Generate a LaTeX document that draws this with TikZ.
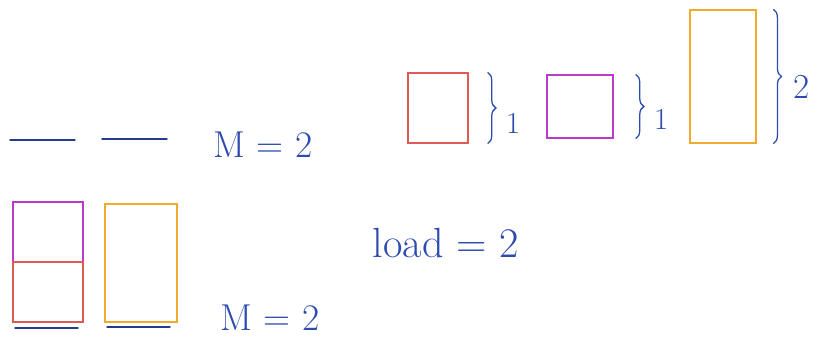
\documentclass[tikz,border=0pt]{standalone}
\usepackage{xcolor}
\usetikzlibrary{decorations.pathreplacing}

\definecolor{penblue}{RGB}{45,75,175}
\definecolor{penred}{RGB}{222,90,85}
\definecolor{penpurple}{RGB}{185,60,200}
\definecolor{penorange}{RGB}{240,170,45}

\begin{document}
\begin{tikzpicture}[x=0.03cm, y=-0.03cm]

% Defined styles
\tikzstyle{slot} = [draw=penblue!80!black, line width=1.2pt, line cap=round]
\tikzstyle{box} = [rectangle, line width=1.1pt, inner sep=0pt]
\tikzstyle{redbox} = [box, draw=penred]
\tikzstyle{purplebox} = [box, draw=penpurple]
\tikzstyle{orangebox} = [box, draw=penorange]
\tikzstyle{brace} = [draw=penblue, line width=1.1pt, decorate, decoration={brace, amplitude=7pt}]
\tikzstyle{note} = [text=penblue, inner sep=0pt]

\useasboundingbox (0,0) rectangle (824,349);

% --- Row 1: two machines ---
\coordinate (s1a) at (10,140);  \coordinate (s1b) at (75,140);
\coordinate (s2a) at (102,139); \coordinate (s2b) at (167,139);
\draw [slot] (s1a) -- (s1b);
\draw [slot] (s2a) -- (s2b);
\node (m1) [note, font=\fontsize{32}{36}\selectfont] at (263,145) {M = 2};

% --- Row 1: jobs with their sizes ---
\node (job1) [redbox, minimum width=1.8cm, minimum height=2.1cm] at (438,108) {};
\node (job2) [purplebox, minimum width=1.98cm, minimum height=1.89cm] at (580,106.5) {};
\node (job3) [orangebox, minimum width=1.98cm, minimum height=3.99cm] at (723,76.5) {};

\draw [brace] ([xshift=0.57cm]job1.north east) -- ([xshift=0.57cm]job1.south east) coordinate[midway, xshift=0.55cm] (b1);
\draw [brace] ([xshift=0.66cm]job2.north east) -- ([xshift=0.66cm]job2.south east) coordinate[midway, xshift=0.55cm] (b2);
\draw [brace] ([xshift=0.5cm]job3.north east) -- ([xshift=0.5cm]job3.south east) coordinate[midway, xshift=0.6cm] (b3);
\node (n1) [note, anchor=west, font=\fontsize{26}{30}\selectfont] at ([yshift=-0.45cm]b1) {1};
\node (n2) [note, anchor=west, font=\fontsize{26}{30}\selectfont] at ([yshift=-0.4cm]b2) {1};
\node (n3) [note, anchor=west, font=\fontsize{30}{34}\selectfont] at ([yshift=-0.3cm]b3) {2};

% --- Row 2: jobs stacked on the machines ---
\node (st1) [purplebox, minimum width=2.1cm, minimum height=1.8cm] at (48,232) {};
\node (st2) [redbox, minimum width=2.1cm, minimum height=1.8cm] at (48,292) {};
\node (st3) [orangebox, minimum width=2.16cm, minimum height=3.54cm] at (141,263) {};
\coordinate (t1a) at (15,328);  \coordinate (t1b) at (78,328);
\coordinate (t2a) at (107,327); \coordinate (t2b) at (170,327);
\draw [slot] (t1a) -- (t1b);
\draw [slot] (t2a) -- (t2b);
\node (m2) [note, font=\fontsize{32}{36}\selectfont] at (270,318) {M = 2};

% --- Label ---
\node (ld) [note, font=\fontsize{36}{40}\selectfont] at (446,243) {load = 2};

\end{tikzpicture}
\end{document}
